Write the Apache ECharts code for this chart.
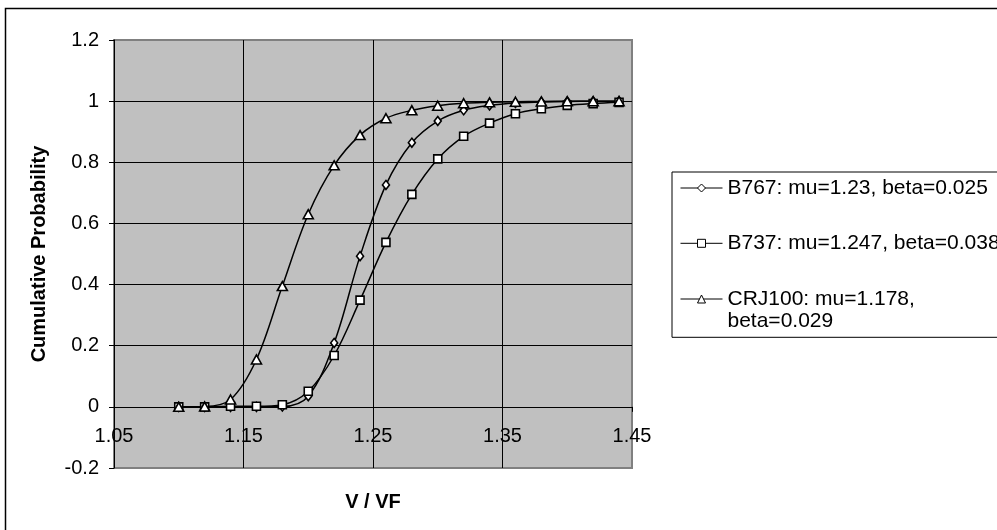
<!DOCTYPE html>
<html>
<head>
<meta charset="utf-8">
<title>Cumulative Probability vs V / VF</title>
<script src="https://cdn.jsdelivr.net/npm/echarts@6/dist/echarts.min.js"></script>
<style>
  html, body { margin: 0; padding: 0; background: #fff; }
  #chart { width: 997px; height: 530px; }
</style>
</head>
<body>
<div id="chart"></div>
<script>
// V / VF sample points
const vf = [1.10, 1.12, 1.14, 1.16, 1.18, 1.20, 1.22, 1.24, 1.26, 1.28, 1.30, 1.32, 1.34, 1.36, 1.38, 1.40, 1.42, 1.44];

// Cumulative probability per aircraft type
const b767 = [0, 0, 0, 0, 0.001, 0.035, 0.209, 0.493, 0.726, 0.864, 0.935, 0.970, 0.986, 0.994, 0.997, 0.999, 0.9995, 1.0];
const b737 = [0, 0, 0.002, 0.002, 0.007, 0.051, 0.168, 0.349, 0.538, 0.695, 0.811, 0.885, 0.928, 0.959, 0.975, 0.986, 0.992, 0.996];
const crj100 = [0, 0.001, 0.024, 0.155, 0.395, 0.630, 0.790, 0.889, 0.944, 0.970, 0.985, 0.993, 0.996, 0.998, 0.999, 0.9995, 1.0, 1.0];

const seriesNames = [
  'B767: mu=1.23, beta=0.025',
  'B737: mu=1.247, beta=0.038',
  'CRJ100: mu=1.178,\nbeta=0.029'
];

// x-axis tick positions / labels
const xTicks = [1.05, 1.15, 1.25, 1.35, 1.45];

const FONT = '"Liberation Sans", Arial, sans-serif';

function pairs(ys) {
  return vf.map((x, i) => [x, ys[i]]);
}

function makeSeries(name, ys, symbol, size) {
  return {
    name: name,
    type: 'line',
    data: pairs(ys),
    smooth: 0.35,
    symbol: symbol,
    symbolSize: size,
    showAllSymbol: true,
    lineStyle: { color: '#000', width: 1.5 },
    itemStyle: { color: '#fff', borderColor: '#000', borderWidth: 1.6 },
    emphasis: { disabled: true },
    animation: false
  };
}

const chart = echarts.init(document.getElementById('chart'), null, { renderer: 'canvas' });

chart.setOption({
  animation: false,
  backgroundColor: '#fff',
  textStyle: { fontFamily: FONT, color: '#000' },
  graphic: [{
    type: 'rect',
    shape: { x: 5.5, y: 8.5, width: 1100, height: 700 },
    style: { fill: 'none', stroke: '#000', lineWidth: 1.5 },
    silent: true,
    z: -1
  }],
  grid: {
    left: 114, top: 40, width: 518, height: 428,
    outerBoundsMode: 'none',
    containLabel: false,
    show: true,
    backgroundColor: '#C0C0C0',
    borderColor: '#808080',
    borderWidth: 2
  },
  xAxis: {
    type: 'value',
    min: 1.05, max: 1.45, interval: 0.05,
    axisLine: { show: true, onZero: true, lineStyle: { color: '#000', width: 1 } },
    axisTick: { show: true, length: 5, customValues: xTicks, lineStyle: { color: '#000' } },
    // tick labels sit just under the zero line, inside the plot area
    axisLabel: { customValues: xTicks, inside: true, margin: 22, fontSize: 20, color: '#000', fontFamily: FONT },
    splitLine: { show: true, showMinLine: false, showMaxLine: false, lineStyle: { color: '#000', width: 1 } },
    name: 'V / VF',
    nameLocation: 'middle',
    nameGap: 24,
    nameTextStyle: { fontWeight: 'bold', fontSize: 20, color: '#000', fontFamily: FONT }
  },
  yAxis: {
    type: 'value',
    min: -0.2, max: 1.2, interval: 0.2,
    axisLine: { show: true, onZero: false, lineStyle: { color: '#000', width: 1 } },
    axisTick: { show: true, length: 5, lineStyle: { color: '#000' } },
    axisLabel: { margin: 15, fontSize: 20, color: '#000', fontFamily: FONT },
    splitLine: { show: true, showMinLine: false, showMaxLine: false, lineStyle: { color: '#000', width: 1 } },
    name: 'Cumulative Probability',
    nameLocation: 'middle',
    nameRotate: 90,
    nameGap: 65,
    nameTextStyle: { fontWeight: 'bold', fontSize: 20, color: '#000', fontFamily: FONT }
  },
  legend: [{
    orient: 'vertical',
    left: 672, top: 172,
    padding: [5, 12, 83, 8],
    itemGap: 33.3,
    itemWidth: 42, itemHeight: 10,
    backgroundColor: '#fff',
    borderColor: '#000', borderWidth: 1,
    selectedMode: false,
    data: [seriesNames[0], seriesNames[1]],
    lineStyle: { width: 1 },
    itemStyle: { borderWidth: 1 },
    textStyle: { fontSize: 21, lineHeight: 22, color: '#000', fontFamily: FONT }
  }, {
    // leading blank line keeps the symbol level with the first text line
    orient: 'vertical',
    left: 680, top: 266,
    padding: 0,
    itemWidth: 42, itemHeight: 10,
    selectedMode: false,
    data: [seriesNames[2]],
    formatter: '\n{name}',
    lineStyle: { width: 1 },
    itemStyle: { borderWidth: 1 },
    textStyle: { fontSize: 21, lineHeight: 22, color: '#000', fontFamily: FONT }
  }],
  series: [
    makeSeries(seriesNames[0], b767, 'diamond', [7, 9]),
    makeSeries(seriesNames[1], b737, 'rect', 8),
    makeSeries(seriesNames[2], crj100, 'triangle', [10, 9])
  ]
});
</script>
</body>
</html>
